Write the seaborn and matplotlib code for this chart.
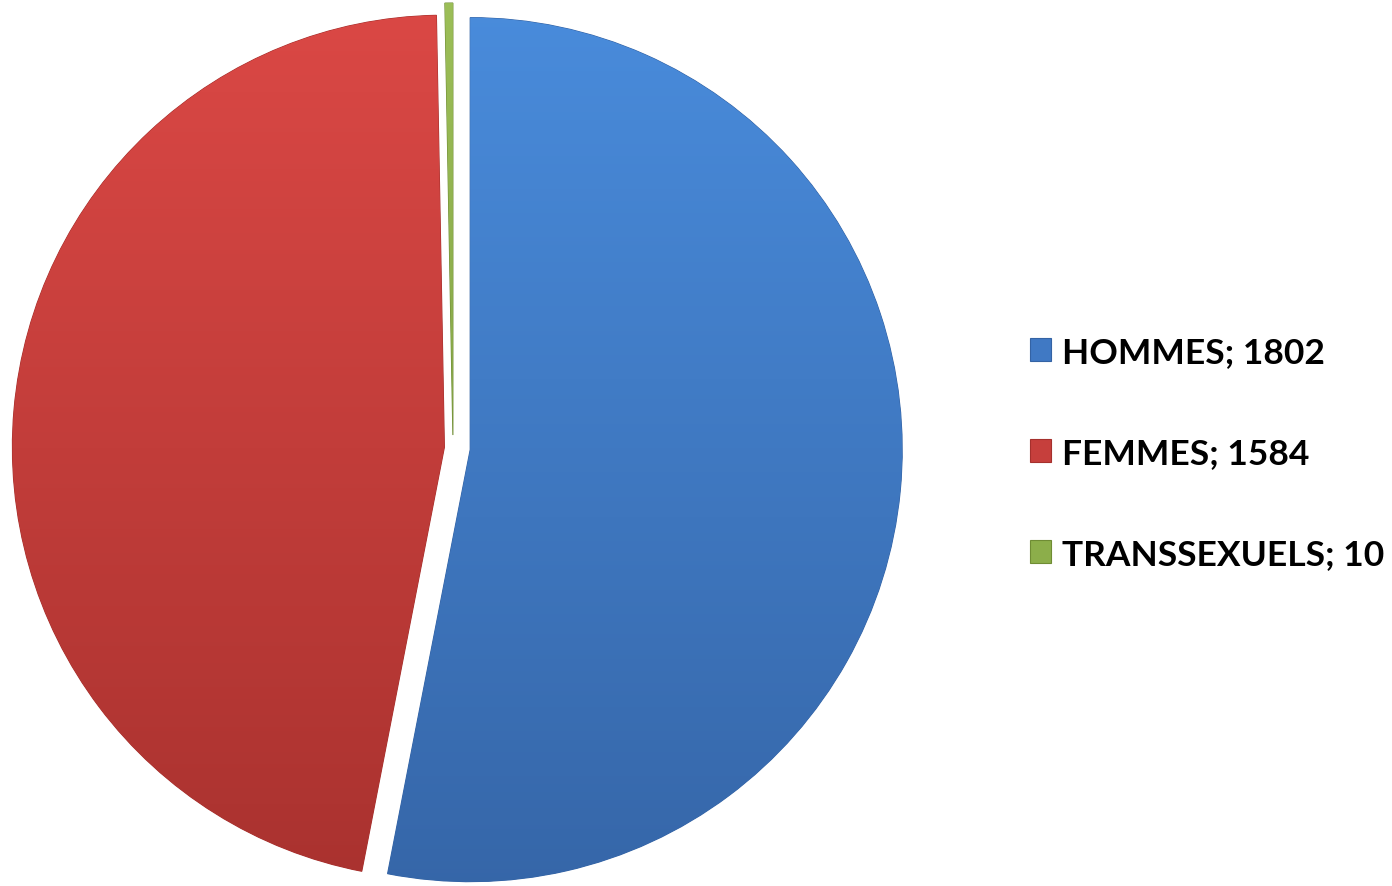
import numpy as np
import matplotlib
matplotlib.use("Agg")
import matplotlib.pyplot as plt
from matplotlib.colors import LinearSegmentedColormap
from matplotlib.patches import Patch
import seaborn as sns

categories = ["HOMMES", "FEMMES", "TRANSSEXUELS"]
values = [1802, 1584, 10]
legend_labels = [f"{c}; {v}" for c, v in zip(categories, values)]

top_colors = ["#4b8fe0", "#df4a47", "#9fc25a"]
bottom_colors = ["#3463a4", "#a5302d", "#6f8c34"]
base_colors = ["#4079c4", "#c63f3c", "#8cae4a"]

sns.set_theme(style="white")
plt.rcParams['font.family'] = ['Lato', 'DejaVu Sans']

W, H = 1392, 887
fig = plt.figure(figsize=(W / 100, H / 100), dpi=100)
ax = fig.add_axes([0, 0, 1, 1])

R = 432.0
cx, cy = 453.0, 438.0
wedges, _ = ax.pie(values, colors=base_colors, startangle=90, counterclock=False,
                   explode=[0.04, 0.02, 0.03], radius=1.0,
                   wedgeprops=dict(linewidth=0.8))
ax.axis('off')

grad = np.linspace(0, 1, 256).reshape(-1, 1)
for w, tc, bc in zip(wedges, top_colors, bottom_colors):
    cmap = LinearSegmentedColormap.from_list("g", [tc, bc])
    ext = [-1.2, 1.2, -1.2, 1.2]
    im = ax.imshow(grad, cmap=cmap, extent=ext, origin='upper', aspect='auto', zorder=w.get_zorder() + 0.1)
    im.set_clip_path(w)
    w.set_edgecolor(bc)
ax.set_xlim(-cx / R, (W - cx) / R)
ax.set_ylim(-cy / R, (H - cy) / R)
ax.set_aspect('auto')

handles = [Patch(facecolor=c, edgecolor=b, linewidth=0.8) for c, b in zip(base_colors, bottom_colors)]
leg = fig.legend(handles, legend_labels, loc='center left', bbox_to_anchor=(1030 / W, 1 - 454 / H),
                 frameon=False, prop=dict(size=25.5, weight='bold'),
                 handlelength=0.6, handleheight=0.6, handletextpad=0.3, labelspacing=1.95,
                 borderaxespad=0, borderpad=0)
for t in leg.get_texts():
    t.set_color('#000000')

fig.savefig("out.png", dpi=100, facecolor='white')
